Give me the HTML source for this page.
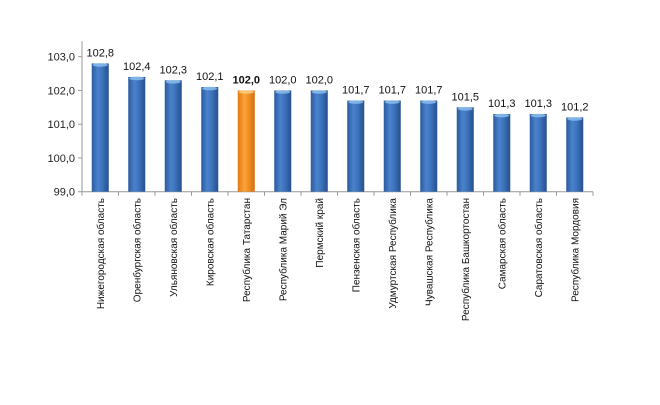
<!DOCTYPE html>
<html><head><meta charset="utf-8"><style>
body{margin:0;background:#fff;}
svg{display:block;font-family:"Liberation Sans","DejaVu Sans",sans-serif;}
</style></head><body>
<svg id="chart" width="660" height="405">
<defs>
<linearGradient id="gb" x1="0" x2="1" y1="0" y2="0">
<stop offset="0" stop-color="#2a5a9e"/><stop offset="0.35" stop-color="#4a82cc"/><stop offset="0.6" stop-color="#3e74be"/><stop offset="1" stop-color="#24508e"/></linearGradient>
<linearGradient id="go" x1="0" x2="1" y1="0" y2="0">
<stop offset="0" stop-color="#e07a10"/><stop offset="0.4" stop-color="#fba43a"/><stop offset="1" stop-color="#d86e08"/></linearGradient>
</defs>
</svg>
<script>
const categories=["Нижегородская область","Оренбургская область","Ульяновская область","Кировская область","Республика Татарстан","Республика Марий Эл","Пермский край","Пензенская область","Удмуртская Республика","Чувашская Республика","Республика Башкортостан","Самарская область","Саратовская область","Республика Мордовия"];
const values=[102.8,102.4,102.3,102.1,102.0,102.0,102.0,101.7,101.7,101.7,101.5,101.3,101.3,101.2];
const valueLabels=["102,8","102,4","102,3","102,1","102,0","102,0","102,0","101,7","101,7","101,7","101,5","101,3","101,3","101,2"];
const yTicks=[99,100,101,102,103];
const yTickLabels=["99,0","100,0","101,0","102,0","103,0"];
const highlightIndex=4;

const svg=document.getElementById('chart');
const NS='http://www.w3.org/2000/svg';
const L=82,R=593,B=191.7,yMin=99,yMax=103.46,pxU=33.75;
const step=(R-L)/categories.length, bw=17;
const y=v=>B-(v-yMin)*pxU;
const xc=i=>L+step*(i+0.5);
function mk(t,a,p){const e=document.createElementNS(NS,t);for(const k in a)e.setAttribute(k,a[k]);(p||svg).appendChild(e);return e;}

const ax=mk('line',{x1:L,x2:L,y1:y(yMax),y2:B,stroke:'#999','stroke-width':1});


const xa=mk('line',{x1:L,x2:R,y1:B,y2:B,stroke:'#999','stroke-width':1});


yTicks.forEach((t,i)=>{
  mk('line',{x1:L-4,x2:L,y1:y(t),y2:y(t),stroke:'#999'});
  const tx=mk('text',{x:L-7,y:y(t)+4,'text-anchor':'end','font-size':11,fill:'#222'});
  tx.textContent=yTickLabels[i];
  
  
});
for(let i=0;i<=categories.length;i++){mk('line',{x1:L+step*i,x2:L+step*i,y1:B,y2:B+4,stroke:'#999'});}
values.forEach((v,i)=>{
  const hl=i===highlightIndex;
  const r=mk('rect',{x:xc(i)-bw/2,y:y(v),width:bw,height:B-y(v),fill:hl?'url(#go)':'url(#gb)'});
  
  
  mk('ellipse',{cx:xc(i),cy:y(v)+1.5,rx:bw/2-1,ry:1.8,fill:hl?'#ffd08a':'#8fc0f0',opacity:0.8});
  const t=mk('text',{x:xc(i),y:y(v)-7,'text-anchor':'middle','font-size':11,fill:'#111','font-weight':hl?'bold':'normal'});
  t.textContent=valueLabels[i];
  
  
  const c=mk('text',{transform:`translate(${xc(i)+3.5},198) rotate(-90)`,'text-anchor':'end','font-size':10,fill:'#111'});
  c.textContent=categories[i];
  
  
});
</script>
</body></html>
